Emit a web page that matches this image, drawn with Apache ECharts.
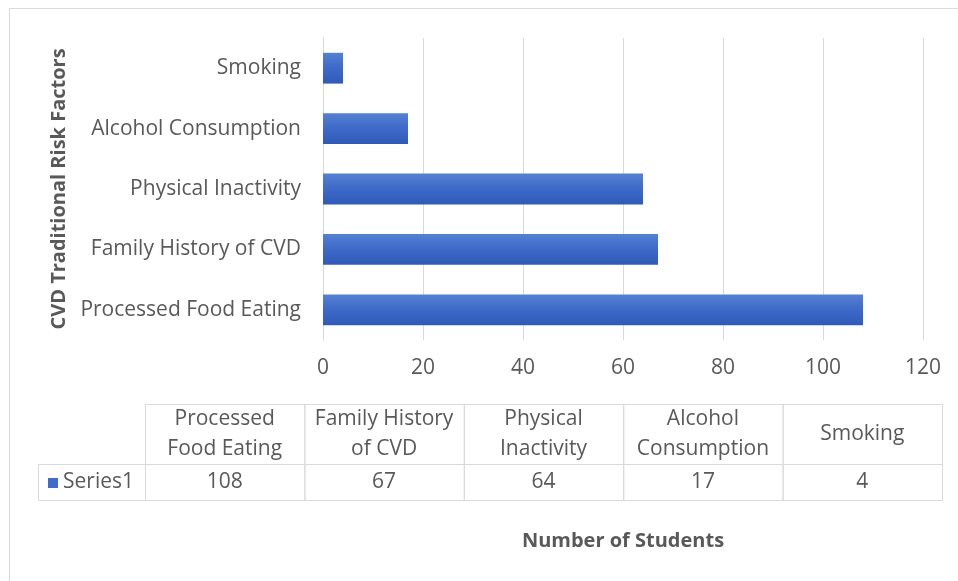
<!DOCTYPE html>
<html><head><meta charset="utf-8">
<script src="https://cdn.jsdelivr.net/npm/echarts@6/dist/echarts.min.js"></script>
<style>html,body{margin:0;padding:0;background:#fff}#c{width:958px;height:581px}</style>
</head><body><div id="c"></div>
<script>
const categories = ["Processed Food Eating","Family History of CVD","Physical Inactivity","Alcohol Consumption","Smoking"];
const tableHeaders = ["Processed\nFood Eating","Family History\nof CVD","Physical\nInactivity","Alcohol\nConsumption","Smoking"];
const values = [108, 67, 64, 17, 4];
const seriesName = "Series1";
const xTicks = {min: 0, max: 120, interval: 20};

const FONT = "Open Sans";
const FS = 20;
const FL = 21;
const txt = "#595959";
const line = "#d9d9d9";

// table layout
const tX0 = 145, tX1 = 942, tLabelX = 38, tTop = 404, tMid = 464, tBot = 500;
const colW = (tX1 - tX0) / categories.length;
const g = [];
g.push({type:'rect', shape:{x:9.5,y:8.5,width:960,height:600}, style:{fill:null, stroke:'#d9d9d9', lineWidth:1}, silent:true});
for (let i=0;i<categories.length;i++){
  const x = tX0 + i*colW;
  g.push({type:'rect', shape:{x:x+0.5,y:tTop+0.5,width:colW,height:tMid-tTop}, style:{fill:null, stroke:line, lineWidth:1}});
  g.push({type:'text', x:x+colW/2, y:(tTop+tMid)/2, style:{text:tableHeaders[i], fill:txt, font:FL+'px "'+FONT+'"', align:'center', verticalAlign:'middle', lineHeight:30}});
  g.push({type:'rect', shape:{x:x+0.5,y:tMid+0.5,width:colW,height:tBot-tMid}, style:{fill:null, stroke:line, lineWidth:1}});
  g.push({type:'text', x:x+colW/2, y:(tMid+tBot)/2, style:{text:String(values[i]), fill:txt, font:FL+'px "'+FONT+'"', align:'center', verticalAlign:'middle'}});
}
g.push({type:'rect', shape:{x:tLabelX+0.5,y:tMid+0.5,width:tX0-tLabelX,height:tBot-tMid}, style:{fill:null, stroke:line, lineWidth:1}});
g.push({type:'rect', shape:{x:48,y:478,width:10,height:10}, style:{fill:'#3f6cc8'}});
g.push({type:'text', x:63, y:(tMid+tBot)/2, style:{text:seriesName, fill:txt, font:FL+'px "'+FONT+'"', align:'left', verticalAlign:'middle'}});

const chart = echarts.init(document.getElementById('c'));
chart.setOption({
  animation:false,
  textStyle:{fontFamily:FONT},
  grid:{left:323, right:35, top:38, bottom:241},
  xAxis:{type:'value', min:xTicks.min, max:xTicks.max, interval:xTicks.interval,
    name:'Number of Students', nameLocation:'middle', nameGap:191,
    nameTextStyle:{color:txt, fontSize:FS, fontWeight:'bold', fontFamily:FONT},
    axisLine:{show:false}, axisTick:{show:false},
    axisLabel:{color:txt, fontSize:FL, margin:18, fontFamily:FONT},
    splitLine:{lineStyle:{color:line, width:1}}},
  yAxis:{type:'category', data:categories,
    name:'CVD Traditional Risk Factors', nameLocation:'middle', nameGap:252, nameRotate:90,
    nameTextStyle:{color:txt, fontSize:FS, fontWeight:'bold', fontFamily:FONT},
    axisLine:{show:true, lineStyle:{color:line}}, axisTick:{show:false},
    axisLabel:{color:txt, fontSize:FL, margin:22, fontFamily:FONT}},
  series:[{type:'bar', name:seriesName, data:values, barWidth:'51%',
    itemStyle:{color:new echarts.graphic.LinearGradient(0,0,0,1,[{offset:0,color:'#5581d3'},{offset:0.5,color:'#3d69c8'},{offset:1,color:'#2f5ab8'}])}}],
  graphic:g
});
</script></body></html>
